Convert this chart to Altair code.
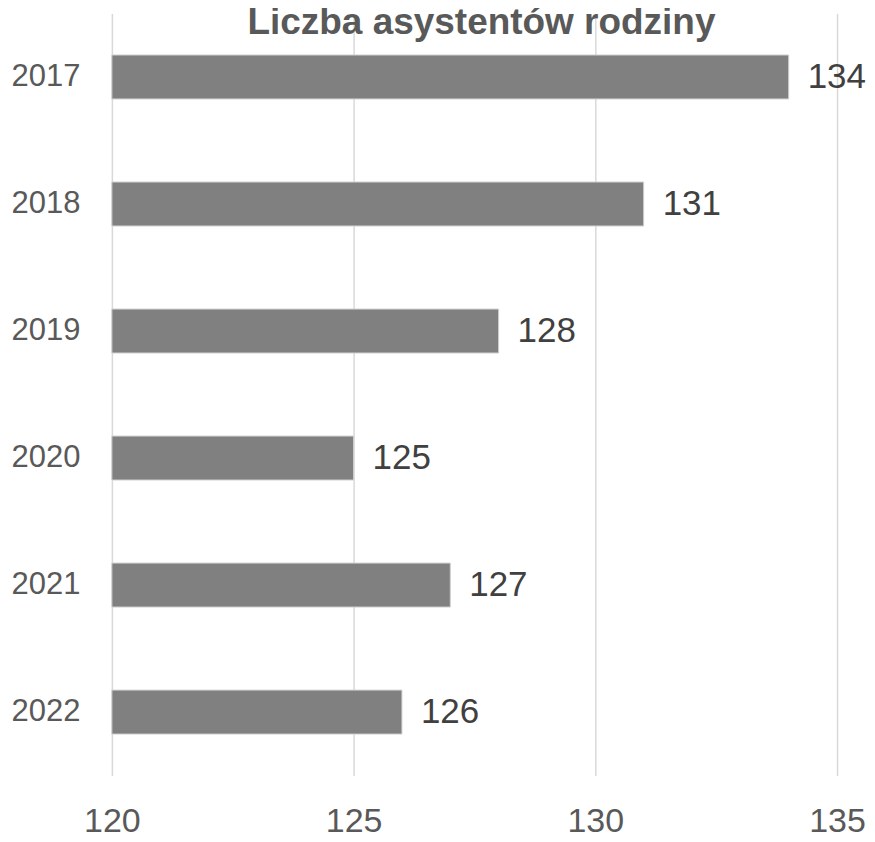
import altair as alt
import pandas as pd

years = ["2017", "2018", "2019", "2020", "2021", "2022"]
values = [134, 131, 128, 125, 127, 126]
x_ticks = [120, 125, 130, 135]
x_min, x_max = 120, 135
title_text = "Liczba asystentów rodziny"

df = pd.DataFrame({"year": years, "value": values})

NUM_FONT = "Liberation Sans, sans-serif"

base = alt.Chart(df).encode(
    y=alt.Y(
        "year:N",
        sort=years,
        scale=alt.Scale(paddingInner=0.654, paddingOuter=0.327),
        axis=alt.Axis(
            title=None, domain=False, ticks=False, labelPadding=32,
            labelFont=NUM_FONT, labelFontSize=31, labelColor="#595959",
            grid=False,
        ),
    ),
    x=alt.X(
        "value:Q",
        scale=alt.Scale(domain=[x_min, x_max], nice=False, zero=False),
        axis=alt.Axis(
            title=None, domain=False, ticks=False, values=x_ticks,
            labelPadding=29, labelFont=NUM_FONT, labelFontSize=34,
            labelFlush=False, labelOverlap=False,
            labelColor="#595959", grid=True, gridColor="#d9d9d9",
            gridWidth=1.5,
        ),
    ),
)

bars = base.mark_bar(color="#808080", stroke="#d0d0d0", strokeWidth=1).encode(
    x2=alt.datum(x_min)
)
labels = base.mark_text(
    align="left", baseline="middle", dx=19, font=NUM_FONT,
    fontSize=35, color="#404040",
).encode(text="value:Q")

chart = (
    (bars + labels)
    .properties(
        width=726,
        height=763,
        autosize=alt.AutoSizeParams(type="none"),
        padding={"left": 104, "top": 5, "right": 30, "bottom": 62},
        title=alt.TitleParams(
            title_text, anchor="middle", font="Liberation Sans, sans-serif",
            fontSize=37, fontWeight="bold", color="#595959",
            baseline="top", offset=-29, dx=7,
        ),
    )
    .configure_view(stroke=None)
)

chart.save("out.html", embed_options={"renderer": "svg", "actions": False})
